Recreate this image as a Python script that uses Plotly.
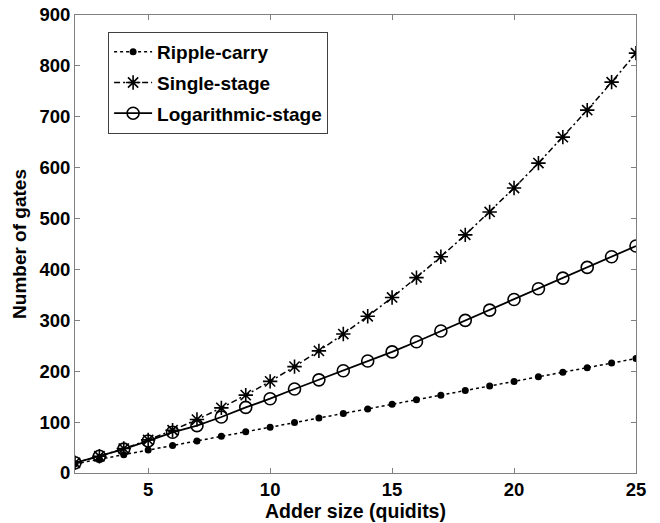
import plotly.graph_objects as go

adder_size = list(range(2, 26))
ripple_carry = [18, 27, 36, 45, 54, 63, 72, 81, 90, 99, 108, 117, 126, 135, 144, 153,
                162, 171, 180, 189, 198, 207, 216, 225]
single_stage = [20, 33, 48, 65, 84, 105, 128, 153, 180, 209, 240, 273, 308, 345, 384,
                425, 468, 513, 560, 609, 660, 713, 768, 825]
log_stage = [20, 33, 47, 63, 80, 93, 110, 129, 146, 165, 183, 201, 220, 238, 258, 279,
             300, 320, 341, 362, 383, 404, 425, 446]

x_ticks = [5, 10, 15, 20, 25]
y_ticks = [0, 100, 200, 300, 400, 500, 600, 700, 800, 900]

FONT = "Liberation Sans"

fig = go.Figure()
fig.add_trace(go.Scatter(
    x=adder_size, y=ripple_carry, name="Ripple-carry", mode="lines+markers",
    legendgroup="a",
    line=dict(color="black", width=1.5, dash="dot"),
    marker=dict(symbol="circle", size=7, color="black"),
))
fig.add_trace(go.Scatter(
    x=adder_size, y=single_stage, name="Single-stage", mode="lines+markers",
    legendgroup="b",
    line=dict(color="black", width=1.5, dash="6px,3px,2px,3px"),
    marker=dict(symbol="asterisk-open", size=12, color="black",
                line=dict(color="black", width=1.6)),
))
fig.add_trace(go.Scatter(
    x=adder_size, y=log_stage, name="Logarithmic-stage", mode="lines+markers",
    legendgroup="c",
    line=dict(color="black", width=1.8),
    marker=dict(symbol="circle-open", size=12, color="black",
                line=dict(color="black", width=1.6)),
))

axis_common = dict(
    showline=True, linecolor="#808080", linewidth=1, mirror="ticks",
    ticks="inside", ticklen=5, tickcolor="#808080", showgrid=False, zeroline=False,
    automargin=False,
    tickfont=dict(family=FONT, size=18.5, color="black", weight="bold"),
)

fig.update_xaxes(
    range=[2, 25], tickvals=x_ticks, ticktext=[str(v) for v in x_ticks],
    ticklabelstandoff=0,
    title=dict(text="Adder size (quidits)", standoff=4,
               font=dict(family=FONT, size=19.5, color="black", weight="bold")),
    **axis_common,
)
fig.update_yaxes(
    range=[0, 900], tickvals=y_ticks, ticktext=[str(v) for v in y_ticks],
    title=dict(text="Number of gates", standoff=7,
               font=dict(family=FONT, size=19, color="black", weight="bold")),
    **axis_common,
)

fig.update_layout(
    width=660, height=523,
    margin=dict(l=75, r=24, t=15, b=50),
    paper_bgcolor="white", plot_bgcolor="white",
    legend=dict(
        x=0.059, y=0.963, xanchor="left", yanchor="top",
        bgcolor="white", bordercolor="#404040", borderwidth=1,
        font=dict(family=FONT, size=19, color="black", weight="bold"),
        tracegroupgap=3, itemwidth=38, traceorder="grouped",
    ),
    font=dict(family=FONT, color="black"),
)

fig.write_html("out.html")
